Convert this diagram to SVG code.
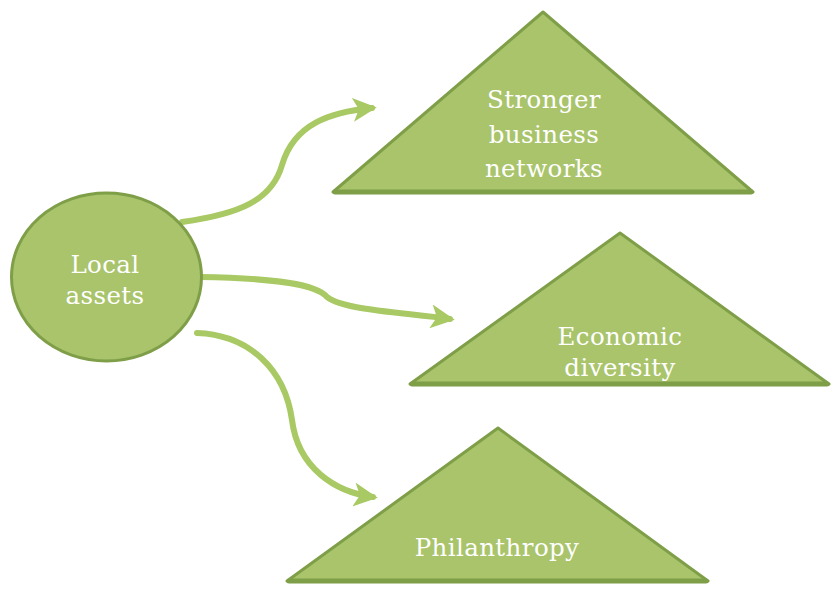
<svg xmlns="http://www.w3.org/2000/svg" width="833" height="592" viewBox="0 0 833 592">
  <style>
    .shape { fill: #a9c46b; stroke: #7f9e48; stroke-width: 3; stroke-linejoin: round; }
    .base { stroke: #7f9e48; stroke-width: 5; stroke-linecap: round; }
    .label { font-family: "DejaVu Serif", "Liberation Serif", serif; font-size: 24.5px; fill: #ffffff; text-anchor: middle; letter-spacing: 0.4px; }
    .link { fill: none; stroke: #a8c963; stroke-width: 6; stroke-linecap: round; marker-end: url(#head); }
  </style>
  <defs>
    <marker id="head" viewBox="0 0 10 10" refX="8" refY="5" markerWidth="4" markerHeight="4" orient="auto" markerUnits="strokeWidth">
      <path d="M0,0 L10,5 L0,10 L2.5,5 Z" fill="#a8c963"/>
    </marker>
  </defs>

  <rect width="833" height="592" fill="#ffffff"/>

  <g id="connectors">
    <path class="link" d="M182,222 C240,214 272,200 282,165 C294,124 330,112 372,108"/>
    <path class="link" d="M200,277 C262,278 310,282 325,295 C338,310 400,312 450,319"/>
    <path class="link" d="M197,333 C250,335 285,370 292,420 C298,468 335,492 373,497"/>
  </g>

  <g id="local-assets">
    <ellipse class="shape" cx="106.5" cy="277" rx="95" ry="84"/>
    <text class="label" x="105" y="273">Local</text>
    <text class="label" x="105" y="304">assets</text>
  </g>

  <g id="stronger-business-networks">
    <polygon class="shape" points="543,12 753,192 333,192"/>
    <line class="base" x1="335" y1="192" x2="751" y2="192"/>
    <text class="label" x="544" y="108">Stronger</text>
    <text class="label" x="544" y="143">business</text>
    <text class="label" x="544" y="177">networks</text>
  </g>

  <g id="economic-diversity">
    <polygon class="shape" points="620,233 829,384 410,384"/>
    <line class="base" x1="412" y1="384" x2="827" y2="384"/>
    <text class="label" x="620" y="345">Economic</text>
    <text class="label" x="620" y="376">diversity</text>
  </g>

  <g id="philanthropy">
    <polygon class="shape" points="498,428 708,581 287,581"/>
    <line class="base" x1="289" y1="581" x2="706" y2="581"/>
    <text class="label" x="497" y="556">Philanthropy</text>
  </g>
</svg>
